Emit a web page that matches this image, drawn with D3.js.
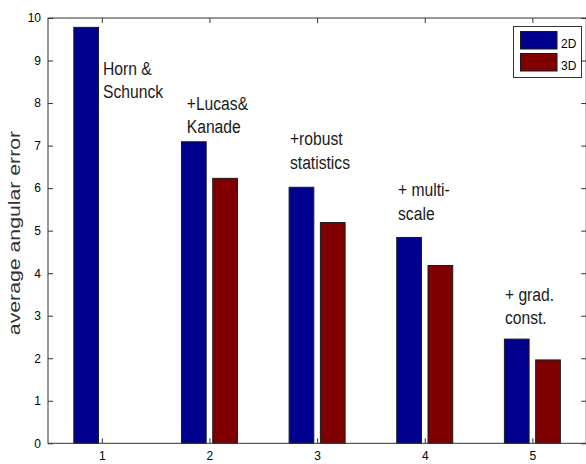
<!DOCTYPE html>
<html><head><meta charset="utf-8">
<script src="https://cdn.jsdelivr.net/npm/d3@7"></script>
<style>
html,body{margin:0;padding:0;background:#fff;}
svg{display:block;font-family:"Liberation Sans",Arial,Helvetica,sans-serif;}
</style></head>
<body>
<script>
const categories = [1, 2, 3, 4, 5];
const seriesNames = ["2D", "3D"];
const values2D = [9.78, 7.09, 6.02, 4.84, 2.45];
const values3D = [null, 6.23, 5.19, 4.18, 1.96];
const yTicks = [0, 1, 2, 3, 4, 5, 6, 7, 8, 9, 10];
const yLabel = "average angular error";
const annotations = [
  {x: 1.011, y: 8.66, lines: ["Horn &", "Schunck"]},
  {x: 1.789, y: 7.84, lines: ["+Lucas&", "Kanade"]},
  {x: 2.748, y: 7.01, lines: ["+robust", "statistics"]},
  {x: 3.752, y: 5.81, lines: ["+ multi-", "scale"]},
  {x: 4.745, y: 3.35, lines: ["+ grad.", "const."]}
];
const colors = ["#00008f", "#800000"];

const W = 586, H = 464;
const svg = d3.select("body").append("svg").attr("width", W).attr("height", H);

const x = d3.scaleLinear().domain([0.5, 5.5]).range([48, 586.2]);
const y = d3.scaleLinear().domain([0, 10]).range([443.3, 18]);
const sub = d3.scaleBand().domain(seriesNames).range([-0.26, 0.26]).paddingInner(0.21).paddingOuter(0);

const axisColor = "#333";

// bars
const series = [values2D, values3D];
series.forEach((vals, si) => {
  svg.append("g").selectAll("rect")
    .data(categories.map((c, i) => ({c, v: vals[i]})).filter(d => d.v != null))
    .join("rect")
    .attr("x", d => x(d.c + sub(seriesNames[si])))
    .attr("width", x(sub.bandwidth()) - x(0))
    .attr("y", d => y(d.v))
    .attr("height", d => y(0) - y(d.v))
    .attr("fill", colors[si])
    .attr("stroke", "#1a1a1a")
    .attr("stroke-width", 1);
});

// axes
const axLeft = d3.axisLeft(y).tickValues(yTicks).tickSize(-5).tickPadding(7).tickFormat(d3.format("d"));
const axRight = d3.axisRight(y).tickValues(yTicks).tickSize(-5).tickFormat("");
const axBottom = d3.axisBottom(x).tickValues(categories).tickSize(-5).tickPadding(8.5).tickFormat(d3.format("d"));
const axTop = d3.axisTop(x).tickValues(categories).tickSize(-5).tickFormat("");

function style(g) {
  g.selectAll("path,line").attr("stroke", axisColor);
  g.selectAll("text").attr("fill", "#000").style("font-size", "12px").style("font-family", '"Liberation Sans",Arial,sans-serif');
  g.select(".domain").remove();
}
svg.append("g").attr("transform", `translate(${x(0.5)},0)`).call(axLeft).call(style);
svg.append("g").attr("transform", `translate(${x(5.5)},0)`).call(axRight).call(style);
svg.append("g").attr("transform", `translate(0,${y(0)})`).call(axBottom).call(style);
svg.append("g").attr("transform", `translate(0,${y(10)})`).call(axTop).call(style);

// frame
svg.append("rect").attr("x", x(0.5)).attr("y", y(10))
  .attr("width", x(5.5) - x(0.5)).attr("height", y(0) - y(10))
  .attr("fill", "none").attr("stroke", axisColor).attr("stroke-width", 1);

// y label
svg.append("text")
  .attr("transform", `translate(20,233) rotate(-90) scale(1.25,1)`)
  .attr("text-anchor", "middle")
  .style("font-size", "17px")
  .attr("fill", "#333")
  .text(yLabel);

// annotations
annotations.forEach(a => {
  const t = svg.append("text")
    .attr("transform", `translate(${x(a.x)},${y(a.y)}) scale(0.87,1)`)
    .style("font-size", "18px")
    .attr("fill", "#1a1a1a");
  a.lines.forEach((l, i) => {
    t.append("tspan").attr("x", 0).attr("y", i * 23.5).text(l);
  });
});

// legend
const lg = svg.append("g");
lg.append("rect").attr("x", 513.5).attr("y", 26.5).attr("width", 68).attr("height", 51)
  .attr("fill", "#fff").attr("stroke", axisColor);
seriesNames.forEach((n, i) => {
  lg.append("rect").attr("x", 520.5).attr("y", 31.5 + i * 22).attr("width", 36.5).attr("height", 17.5)
    .attr("fill", colors[i]).attr("stroke", "#1a1a1a");
  lg.append("text").attr("x", 561).attr("y", 48 + i * 22).style("font-size", "12px").attr("fill", "#000").text(n);
});
</script>
</body></html>
